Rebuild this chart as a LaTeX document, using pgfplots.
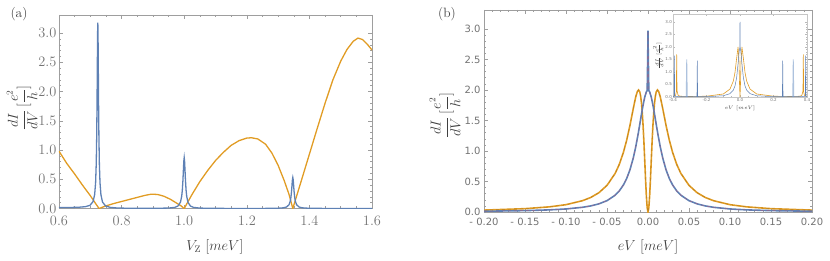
\documentclass[border=0pt]{standalone}
\usepackage{fontspec}
\newfontfamily\dejavu{DejaVu Sans}
\usepackage{pgfplots}
\pgfplotsset{compat=1.18}
\definecolor{mblue}{rgb}{0.368,0.507,0.710}
\definecolor{mlblue}{rgb}{0.68,0.76,0.87}
\definecolor{morange}{rgb}{0.881,0.611,0.142}
\definecolor{mred}{rgb}{0.80,0.30,0.40}
\definecolor{mbrown}{rgb}{0.55,0.36,0.08}
\definecolor{framegray}{gray}{0.62}
\definecolor{labgray}{gray}{0.45}
\definecolor{axlab}{gray}{0.25}
\pgfplotsset{
  mframe/.style={
    scale only axis,
    axis line style={framegray,line width=0.6pt},
    tick style={framegray,line width=0.5pt},
    tick align=inside,
    major tick length=4pt,
    minor tick length=2.3pt,
    ticklabel style={labgray},
    label style={axlab},
    ymin=0, ymax=3.31,
    ytick={0,0.5,1,1.5,2,2.5,3},
    minor y tick num=4,
    yticklabel style={/pgf/number format/fixed,/pgf/number format/fixed zerofill,/pgf/number format/precision=1},
  }
}
\begin{document}
\begin{tikzpicture}[x=1pt,y=1pt]
\useasboundingbox (0,0) rectangle (830,260);

% ---------------- panel (a)
\begin{axis}[mframe,
  at={(59pt,51.5pt)}, anchor=south west,
  width=313pt, height=193.5pt,
  xmin=0.6, xmax=1.6,
  xtick={0.6,0.8,1.0,1.2,1.4,1.6},
  minor x tick num=3,
  xticklabel style={/pgf/number format/fixed,/pgf/number format/fixed zerofill,/pgf/number format/precision=1},
  ticklabel style={font=\fontsize{13.5}{15}\selectfont},
  xticklabel style={/tikz/yshift=-4pt},
  yticklabel style={/tikz/xshift=1pt},
  xlabel={$V_{\mathrm{Z}}\ [meV]$},
  ylabel={$\displaystyle\frac{dI}{dV}\,[\frac{e^2}{h}]$},
  label style={font=\fontsize{13.5}{15}\selectfont},
  xlabel style={at={(axis description cs:0.498,-0.199)},anchor=center},
  ylabel style={at={(axis description cs:-0.118,0.52)},anchor=center},
]
\addplot[morange, line width=1.3pt] coordinates {
(0.600,0.98) (0.625,0.77) (0.650,0.59) (0.675,0.40) (0.700,0.22) (0.715,0.10)
(0.728,0.0) (0.75,0.045) (0.775,0.085) (0.80,0.12) (0.825,0.155) (0.85,0.19)
(0.875,0.225) (0.895,0.245) (0.915,0.24) (0.935,0.21) (0.955,0.16) (0.975,0.095)
(0.99,0.045) (1.0,0.0) (1.025,0.24) (1.05,0.46) (1.075,0.65) (1.1,0.82)
(1.125,0.96) (1.15,1.08) (1.175,1.16) (1.2,1.205) (1.215,1.21) (1.235,1.19)
(1.26,1.10) (1.28,0.95) (1.30,0.74) (1.32,0.47) (1.335,0.24) (1.347,0.0)
(1.375,0.49) (1.40,0.93) (1.425,1.37) (1.45,1.8) (1.475,2.2) (1.50,2.52)
(1.52,2.72) (1.54,2.86) (1.555,2.915) (1.57,2.89) (1.585,2.81) (1.60,2.71)
};
\addplot[mblue, line width=1.3pt] coordinates {
(0.600,0.017) (0.640,0.018) (0.664,0.022) (0.684,0.031) (0.699,0.054) (0.709,0.12)
(0.714,0.242) (0.717,0.449) (0.719,0.768) (0.7205,1.248) (0.7215,1.774) (0.7225,2.473)
(0.7233,2.99) (0.724,3.18) (0.7247,2.98) (0.7255,2.46) (0.7265,1.77) (0.7275,1.24)
(0.729,0.76) (0.731,0.44) (0.734,0.235) (0.739,0.11) (0.749,0.043) (0.764,0.019)
(0.784,0.0095) (0.82,0.004) (0.90,0.003) (0.95,0.0075) (0.97,0.019) (0.98,0.042)
(0.988,0.107) (0.992,0.209) (0.994,0.313) (0.996,0.486) (0.9975,0.665) (0.9988,0.812)
(1.000,0.87) (1.0012,0.812) (1.0025,0.665) (1.004,0.486) (1.006,0.313) (1.008,0.209)
(1.012,0.107) (1.020,0.042) (1.030,0.019) (1.050,0.007) (1.10,0.002) (1.20,0.001)
(1.25,0.0011) (1.297,0.0043) (1.317,0.0116) (1.327,0.0256) (1.335,0.065) (1.339,0.127)
(1.341,0.191) (1.343,0.296) (1.3445,0.405) (1.3458,0.495) (1.347,0.53) (1.3482,0.495)
(1.3495,0.405) (1.351,0.296) (1.353,0.191) (1.355,0.127) (1.359,0.065) (1.367,0.0256)
(1.377,0.0116) (1.397,0.0043) (1.45,0.0011) (1.60,0.0002)
};
\node[axlab, rotate=90, font=\fontsize{13.5}{15}\selectfont] at (axis description cs:1.058,0.5) {$E\ [a.u.]$};
\end{axis}

% ---------------- panel (b)
\begin{axis}[mframe,
  at={(484pt,48pt)}, anchor=south west,
  width=328pt, height=202pt,
  xmin=-0.2, xmax=0.2,
  xtick={-0.2,-0.15,-0.1,-0.05,0,0.05,0.1,0.15,0.2},
  xticklabels={- 0.20,- 0.15,- 0.10,- 0.05,0.00,0.05,0.10,0.15,0.20},
  minor x tick num=4,
  ticklabel style={font=\dejavu\fontsize{10}{12}\selectfont},
  xticklabel style={/tikz/yshift=-2.5pt},
  /pgf/number format/assume math mode=true,
  xlabel={$eV\ [meV]$},
  ylabel={$\displaystyle\frac{dI}{dV}\,[\frac{e^2}{h}]$},
  label style={font=\fontsize{13.5}{15}\selectfont},
  xlabel style={at={(axis description cs:0.5,-0.173)},anchor=center},
  ylabel style={at={(axis description cs:-0.119,0.48)},anchor=center},
]
\addplot[morange, line width=1.6pt] coordinates {
(-0.2,0.031) (-0.15,0.0547) (-0.12,0.0847) (-0.1,0.12) (-0.08,0.185) (-0.07,0.237)
(-0.06,0.315) (-0.05,0.436) (-0.04,0.634) (-0.035,0.781) (-0.03,0.977) (-0.026,1.177)
(-0.022,1.419) (-0.018,1.693) (-0.015,1.885) (-0.013,1.975) (-0.0115,2.0) (-0.010,1.967)
(-0.009,1.901) (-0.008,1.791) (-0.007,1.631) (-0.006,1.417) (-0.005,1.152) (-0.004,0.851)
(-0.003,0.540) (-0.002,0.264) (-0.001,0.070) (0,0)
(0.001,0.070) (0.002,0.264) (0.003,0.540) (0.004,0.851) (0.005,1.152) (0.006,1.417)
(0.007,1.631) (0.008,1.791) (0.009,1.901) (0.010,1.967) (0.0115,2.0) (0.013,1.975)
(0.015,1.885) (0.018,1.693) (0.022,1.419) (0.026,1.177) (0.03,0.977) (0.035,0.781)
(0.04,0.634) (0.05,0.436) (0.06,0.315) (0.07,0.237) (0.08,0.185) (0.1,0.12)
(0.12,0.0847) (0.15,0.0547) (0.2,0.031)
};
\addplot[mbrown, line width=0.5pt, dashed, opacity=0.45] coordinates {
(-0.2,0.031) (-0.15,0.0547) (-0.12,0.0847) (-0.1,0.12) (-0.08,0.185) (-0.07,0.237)
(-0.06,0.315) (-0.05,0.436) (-0.04,0.634) (-0.035,0.781) (-0.03,0.977) (-0.026,1.177)
(-0.022,1.419) (-0.018,1.693) (-0.015,1.885) (-0.013,1.975) (-0.0115,2.0) (-0.010,1.967)
(-0.009,1.901) (-0.008,1.791) (-0.007,1.631) (-0.006,1.417) (-0.005,1.152) (-0.004,0.851)
(-0.003,0.540) (-0.002,0.264) (-0.001,0.070) (0,0)
(0.001,0.070) (0.002,0.264) (0.003,0.540) (0.004,0.851) (0.005,1.152) (0.006,1.417)
(0.007,1.631) (0.008,1.791) (0.009,1.901) (0.010,1.967) (0.0115,2.0) (0.013,1.975)
(0.015,1.885) (0.018,1.693) (0.022,1.419) (0.026,1.177) (0.03,0.977) (0.035,0.781)
(0.04,0.634) (0.05,0.436) (0.06,0.315) (0.07,0.237) (0.08,0.185) (0.1,0.12)
(0.12,0.0847) (0.15,0.0547) (0.2,0.031)
};
\addplot[mblue, line width=1.6pt] coordinates {
(-0.2,0.0127) (-0.15,0.0225) (-0.12,0.0349) (-0.10,0.0499) (-0.08,0.0769) (-0.07,0.0993)
(-0.06,0.133) (-0.05,0.186) (-0.04,0.276) (-0.035,0.346) (-0.03,0.443) (-0.026,0.549)
(-0.022,0.692) (-0.018,0.883) (-0.015,1.064) (-0.012,1.28) (-0.010,1.438) (-0.008,1.6)
(-0.006,1.753) (-0.004,1.882) (-0.002,1.969) (-0.001,1.99) (-0.0003,2.6) (0,2.97)
(0.0003,2.6) (0.001,1.99) (0.002,1.969) (0.004,1.882) (0.006,1.753) (0.008,1.6)
(0.010,1.438) (0.012,1.28) (0.015,1.064) (0.018,0.883) (0.022,0.692) (0.026,0.549)
(0.03,0.443) (0.035,0.346) (0.04,0.276) (0.05,0.186) (0.06,0.133) (0.07,0.0993)
(0.08,0.0769) (0.10,0.0499) (0.12,0.0349) (0.15,0.0225) (0.2,0.0127)
};
\addplot[mred, line width=0.5pt, dashed, opacity=0.55] coordinates {
(-0.2,0.0127) (-0.15,0.0225) (-0.12,0.0349) (-0.10,0.0499) (-0.08,0.0769) (-0.07,0.0993)
(-0.06,0.133) (-0.05,0.186) (-0.04,0.276) (-0.035,0.346) (-0.03,0.443) (-0.026,0.549)
(-0.022,0.692) (-0.018,0.883) (-0.015,1.064) (-0.012,1.28) (-0.010,1.438) (-0.008,1.6)
(-0.006,1.753) (-0.004,1.882) (-0.002,1.969) (-0.001,1.99) (-0.0003,2.6) (0,2.97)
(0.0003,2.6) (0.001,1.99) (0.002,1.969) (0.004,1.882) (0.006,1.753) (0.008,1.6)
(0.010,1.438) (0.012,1.28) (0.015,1.064) (0.018,0.883) (0.022,0.692) (0.026,0.549)
(0.03,0.443) (0.035,0.346) (0.04,0.276) (0.05,0.186) (0.06,0.133) (0.07,0.0993)
(0.08,0.0769) (0.10,0.0499) (0.12,0.0349) (0.15,0.0225) (0.2,0.0127)
};
\end{axis}

% ---------------- inset
\begin{axis}[
  scale only axis,
  at={(673pt,163pt)}, anchor=south west,
  width=134pt, height=83pt,
  axis background/.style={fill=white},
  axis line style={gray!45,line width=0.4pt},
  tick style={gray!55,line width=0.3pt},
  tick align=inside,
  major tick length=2pt, minor tick length=1.2pt,
  xmin=-0.4, xmax=0.4, ymin=0, ymax=3.32,
  xtick={-0.4,-0.2,0,0.2,0.4},
  xticklabels={-0.4,-0.2,0.0,0.2,0.4},
  minor x tick num=3,
  ytick={0,0.5,1,1.5,2,2.5,3},
  yticklabels={0.0,0.5,1.0,1.5,2.0,2.5,3.0},
  minor y tick num=4,
  ticklabel style={font=\dejavu\fontsize{4}{5}\selectfont, labgray, inner sep=1pt},
  xlabel={$eV\ [meV]$},
  ylabel={$\frac{dI}{dV}\,[\frac{e^2}{h}]$},
  label style={font=\fontsize{5}{6}\selectfont, axlab},
  xlabel style={at={(axis description cs:0.5,-0.14)},anchor=center},
  ylabel style={at={(axis description cs:-0.11,0.5)},anchor=center},
]
\addplot[morange, line width=0.6pt] coordinates {
(-0.4,0.03) (-0.385,0.06) (-0.380,0.2) (-0.378,1.7) (-0.376,0.25) (-0.370,0.08)
(-0.36,0.03) (-0.3,0.02) (-0.2,0.031) (-0.1,0.12) (-0.06,0.315) (-0.04,0.634)
(-0.03,0.977) (-0.02,1.554) (-0.0115,2.0) (-0.006,1.417) (-0.003,0.54) (0,0)
(0.003,0.54) (0.006,1.417) (0.0115,2.0) (0.02,1.554) (0.03,0.977) (0.04,0.634)
(0.06,0.315) (0.1,0.12) (0.2,0.031) (0.3,0.02) (0.36,0.03) (0.370,0.08)
(0.376,0.25) (0.378,1.7) (0.380,0.2) (0.385,0.06) (0.4,0.03)
};
\addplot[mlblue, line width=0.9pt] coordinates {
(-0.321,0.0) (-0.318,1.5) (-0.315,0.0)
};
\addplot[mlblue, line width=0.9pt] coordinates {
(0.315,0.0) (0.318,1.5) (0.321,0.0)
};
\addplot[mblue, line width=0.5pt] coordinates {
(-0.4,0.01) (-0.394,0.03) (-0.392,1.65) (-0.390,0.03) (-0.36,0.01)
(-0.257,0.01) (-0.255,1.45) (-0.253,0.01)
(-0.2,0.0127) (-0.1,0.0499) (-0.06,0.133) (-0.04,0.276) (-0.03,0.443) (-0.02,0.78)
(-0.01,1.438) (-0.005,1.82) (-0.001,1.99) (0,3.0) (0.001,1.99) (0.005,1.82)
(0.01,1.438) (0.02,0.78) (0.03,0.443) (0.04,0.276) (0.06,0.133) (0.1,0.0499)
(0.2,0.0127) (0.253,0.01) (0.255,1.45) (0.257,0.01)
(0.36,0.01) (0.390,0.03) (0.392,1.65) (0.394,0.03) (0.4,0.01)
};
\end{axis}

\node[axlab, font=\fontsize{13.5}{15}\selectfont] at (19,246) {(a)};
\node[axlab, font=\fontsize{13.5}{15}\selectfont] at (447,246) {(b)};
\end{tikzpicture}
\end{document}
